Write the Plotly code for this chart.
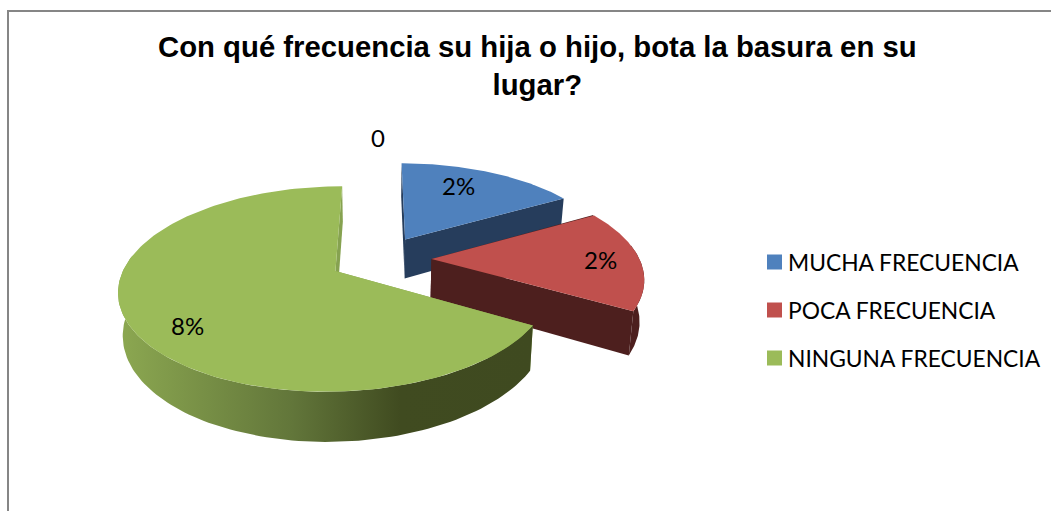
import numpy as np
import plotly.graph_objects as go

title = "Con qué frecuencia su hija o hijo, bota la basura en su<br>lugar?"
categories = ["MUCHA FRECUENCIA", "POCA FRECUENCIA", "NINGUNA FRECUENCIA"]
values = [2, 2, 8]
value_labels = ["2%", "2%", "8%"]
stray_label = "0"

top_colors = ["#4F81BD", "#C0504D", "#9BBB59"]
wall_colors = ["#263D5C", "#4D1F1E", "#86A250"]
green_gradient = [[0, "#8CA851"], [0.42, "#62763A"], [0.68, "#404B20"], [1, "#3F4A20"]]

# projection of the exploded, tilted pie onto the pixel-sized axes
CX, CY, R, S, K, DEPTH, SHRINK, PULL = 380.5, 259, 208, 95.4, 0.172, 40.5, 0.018, 0.245
label_shift = [(-5, -8), (19, 0), (5, 14)]


def project(u, v, z=0.0):
    u, v = np.asarray(u, float), np.asarray(v, float)
    w = 1 - K * v
    return CX + R * u / w * (1 - SHRINK * z), CY + (S * v + DEPTH * z) / w


def poly(xs, ys, color, gradient=None):
    kw = dict(x=list(xs), y=list(ys), mode="lines", fill="toself", line=dict(width=0),
              hoverinfo="skip", showlegend=False)
    if gradient:
        kw["fillgradient"] = dict(type="horizontal", colorscale=gradient)
    else:
        kw["fillcolor"] = color
    return go.Scatter(**kw)


fig = go.Figure()
total = sum(values)
start = 0.0
label_pos = []
for i, val in enumerate(values):
    sweep = 2 * np.pi * val / total
    mid = start + sweep / 2
    ax, ay = PULL * np.sin(mid), -PULL * np.cos(mid)
    th = np.linspace(start, start + sweep, 160)
    au, av = ax + np.sin(th), ay - np.cos(th)

    # radial walls
    for end in (0, -1):
        us = [ax, au[end]]
        vs = [ay, av[end]]
        x0, y0 = project(us, vs, 0)
        x1, y1 = project(us, vs, 1)
        fig.add_trace(poly(np.r_[x0, x1[::-1]], np.r_[y0, y1[::-1]], wall_colors[i]))
    # outer wall: only the part of the rim that faces the viewer
    front = -np.cos(th) > -0.15
    if front.sum() > 1:
        x0, y0 = project(au[front], av[front], 0)
        x1, y1 = project(au[front], av[front], 1)
        fig.add_trace(poly(np.r_[x0, x1[::-1]], np.r_[y0, y1[::-1]], wall_colors[i],
                           green_gradient if i == 2 else None))
    # top
    xt, yt = project(np.r_[ax, au], np.r_[ay, av], 0)
    fig.add_trace(poly(xt, yt, top_colors[i]))

    lf = [0.66, 0.72, 0.76][i]
    lx, ly = project(ax + lf * np.sin(mid), ay - lf * np.cos(mid), 0)
    label_pos.append((float(lx) + label_shift[i][0], float(ly) + label_shift[i][1]))
    start += sweep

annotations = []
for (lx, ly), t in zip(label_pos, value_labels):
    annotations.append(dict(x=lx, y=ly, text=t, showarrow=False,
                            font=dict(family="Lato", size=24, color="#000")))
annotations.append(dict(x=378, y=137, text=stray_label, showarrow=False,
                        font=dict(family="Lato", size=24, color="#000")))

# legend keys and labels
legend_y = [262, 310, 358]
for name, y, col in zip(categories, legend_y, top_colors):
    fig.add_trace(go.Scatter(x=[774.5], y=[y], mode="markers", name=name, showlegend=False,
                             hoverinfo="name",
                             marker=dict(symbol="square", size=15, color=col)))
    annotations.append(dict(x=786, y=y, text=name, xanchor="left", showarrow=False,
                            font=dict(family="Lato", size=22.8, color="#000")))

annotations.append(dict(x=537, y=65, showarrow=False, align="center",
                        text="<b>" + title.replace("<br>", "</b><br><b>") + "</b>",
                        font=dict(family="Liberation Sans", size=29.3, color="#000")))

fig.update_layout(
    width=1051, height=511, margin=dict(l=0, r=0, t=0, b=0),
    paper_bgcolor="white", plot_bgcolor="white", showlegend=False,
    xaxis=dict(range=[0, 1051], visible=False, fixedrange=True),
    yaxis=dict(range=[511, 0], visible=False, fixedrange=True),
    annotations=annotations,
    shapes=[
        dict(type="line", x0=8, x1=1051, y0=11, y1=11, line=dict(color="#868686", width=2)),
        dict(type="line", x0=8, x1=8, y0=10, y1=511, line=dict(color="#868686", width=2)),
    ],
)
fig.write_html("out.html", config={"displayModeBar": False},
               post_script="document.body.style.margin='0';document.body.style.overflow='hidden';")
